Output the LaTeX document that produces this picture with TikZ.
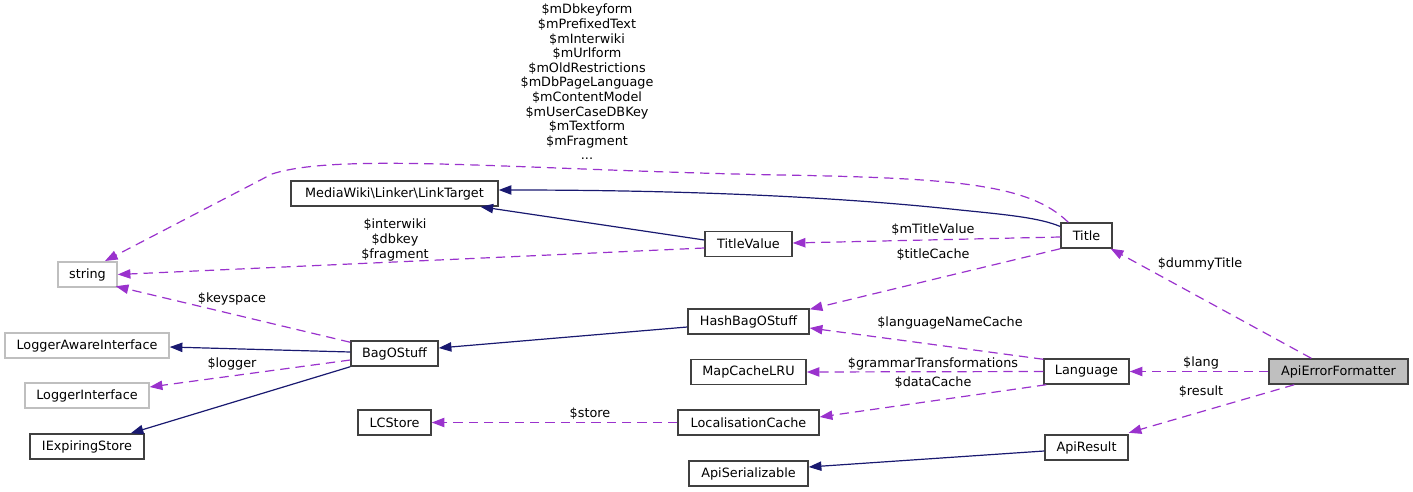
\documentclass[tikz,border=0pt]{standalone}
\usepackage{fontspec}
\setmainfont{DejaVu Sans}
\usetikzlibrary{arrows.meta,calc}
\definecolor{edgeblue}{HTML}{191970}
\definecolor{edgepurple}{HTML}{9A32CD}
\definecolor{boxgray}{HTML}{BFBFBF}
\definecolor{boxline}{HTML}{404040}
\begin{document}
\begin{tikzpicture}[x=0.75pt,y=-0.75pt,
  font=\fontsize{9.6}{10.95}\selectfont,
  cls/.style={draw=boxline,line width=1.1pt,fill=white,inner sep=0pt,minimum height=25*0.75pt,minimum width=#1*0.75pt},
  ext/.style={cls=#1,draw=boxgray},
  main/.style={cls=#1,fill=boxgray},
  inh/.style={draw=edgeblue,line width=0.9pt,-{Triangle[length=9.5pt,width=7pt]}},
  use/.style={draw=edgepurple,line width=0.9pt,dash pattern=on 7pt off 4.5pt,-{Triangle[length=9.5pt,width=7pt]}},
  lbl/.style={inner sep=0pt,align=center}]
\useasboundingbox (0,0) rectangle (1413,492);
% nodes
\node[ext=59]  (string) at (87.5,274.5) {string};
\node[ext=164] (LAI) at (87,345.5) {LoggerAwareInterface};
\node[ext=124] (LI) at (87,395.5) {LoggerInterface};
\node[cls=114] (IES) at (87,446.5) {IExpiringStore};
\node[cls=87]  (Bag) at (394.5,353.5) {BagOStuff};
\node[cls=73]  (LCS) at (394.5,422.5) {LCStore};
\node[cls=207] (LT) at (394.5,193.5) {MediaWiki\textbackslash Linker\textbackslash LinkTarget};
\node[cls=87]  (TV) at (748.5,244) {TitleValue};
\node[cls=121] (HBag) at (748.5,321.5) {HashBagOStuff};
\node[cls=115] (MC) at (748.5,372) {MapCacheLRU};
\node[cls=141] (LC) at (748.5,422.5) {LocalisationCache};
\node[cls=119] (AS) at (748.5,473.5) {ApiSerializable};
\node[cls=51]  (Title) at (1086.5,235.5) {Title};
\node[cls=85]  (Lang) at (1086.5,371.5) {Language};
\node[cls=83]  (AR) at (1086.5,447.5) {ApiResult};
\node[main=139] (AEF) at (1338.5,371.5) {ApiErrorFormatter};
% edges
\draw[inh] ($(Title.west)+(0,-9)$) .. controls (1040,218) and (1010,215) .. (960,210) .. controls (850,198) and (700,190) .. ($(LT.east)+(0,-3.5)$);
\draw[inh] ($(TV.west)+(0,-4)$) -- ($(LT.south)+(86,0)$);
\draw[use] ($(Title.north west)+(8,0)$) .. controls (1030,185) and (960,178) .. (780,175) .. controls (520,170) and (340,152) .. (272,174) -- (105,261);
\node[lbl] (l1) at (587,82) {\$mDbkeyform\\\$mPrefixedText\\\$mInterwiki\\\$mUrlform\\\$mOldRestrictions\\\$mDbPageLanguage\\\$mContentModel\\\$mUserCaseDBKey\\\$mTextform\\\$mFragment\\...};
\draw[use] ($(TV.west)+(0,4)$) -- (string.east);
\node[lbl] (l2) at (395,240) {\$interwiki\\\$dbkey\\\$fragment};
\draw[use] ($(Bag.north west)+(0,2)$) -- ($(string.south east)+(-2,-1.5)$);
\node[lbl] (l3) at (232,299) {\$keyspace};
\draw[inh] ($(Bag.west)+(0,-1.5)$) -- ($(LAI.east)+(0,1.5)$);
\draw[use] ($(Bag.west)+(0,6.5)$) -- ($(LI.east)+(0,-8.5)$);
\node[lbl] (l4) at (232,364) {\$logger};
\draw[inh] (Bag.south west) -- ($(IES.north east)+(-14,0)$);
\draw[inh] ($(HBag.west)+(0,5.5)$) -- ($(Bag.east)+(0,-5.5)$);
\draw[use] ($(Title.west)+(0,1.5)$) -- ($(TV.east)+(0,-1)$);
\node[lbl] (l5) at (933,230) {\$mTitleValue};
\draw[use] (Title.south west) -- ($(HBag.north east)+(0,1)$);
\node[lbl] (l6) at (933,255) {\$titleCache};
\draw[use] ($(Lang.north west)+(0,1)$) -- ($(HBag.east)+(0,6.5)$);
\node[lbl] (l7) at (950,323) {\$languageNameCache};
\draw[use] (Lang.west) -- (MC.east);
\node[lbl] (l8) at (933,364) {\$grammarTransformations};
\draw[use] ($(Lang.south west)+(3,0)$) -- ($(LC.east)+(0,-5.5)$);
\node[lbl] (l9) at (933,383) {\$dataCache};
\draw[use] (LC.west) -- (LCS.east);
\node[lbl] (l10) at (590,414) {\$store};
\draw[inh] ($(AR.west)+(0,3.5)$) -- ($(AS.east)+(0,-6.5)$);
\draw[use] ($(AEF.north west)+(43,0)$) -- ($(Title.south east)+(-2,0)$);
\node[lbl] (l11) at (1200,264) {\$dummyTitle};
\draw[use] (AEF.west) -- (Lang.east);
\node[lbl] (l12) at (1201,363) {\$lang};
\draw[use] ($(AEF.south west)+(26,0)$) -- ($(AR.north east)+(0,-1.5)$);
\node[lbl] (l13) at (1201,392) {\$result};
\end{tikzpicture}
\end{document}
